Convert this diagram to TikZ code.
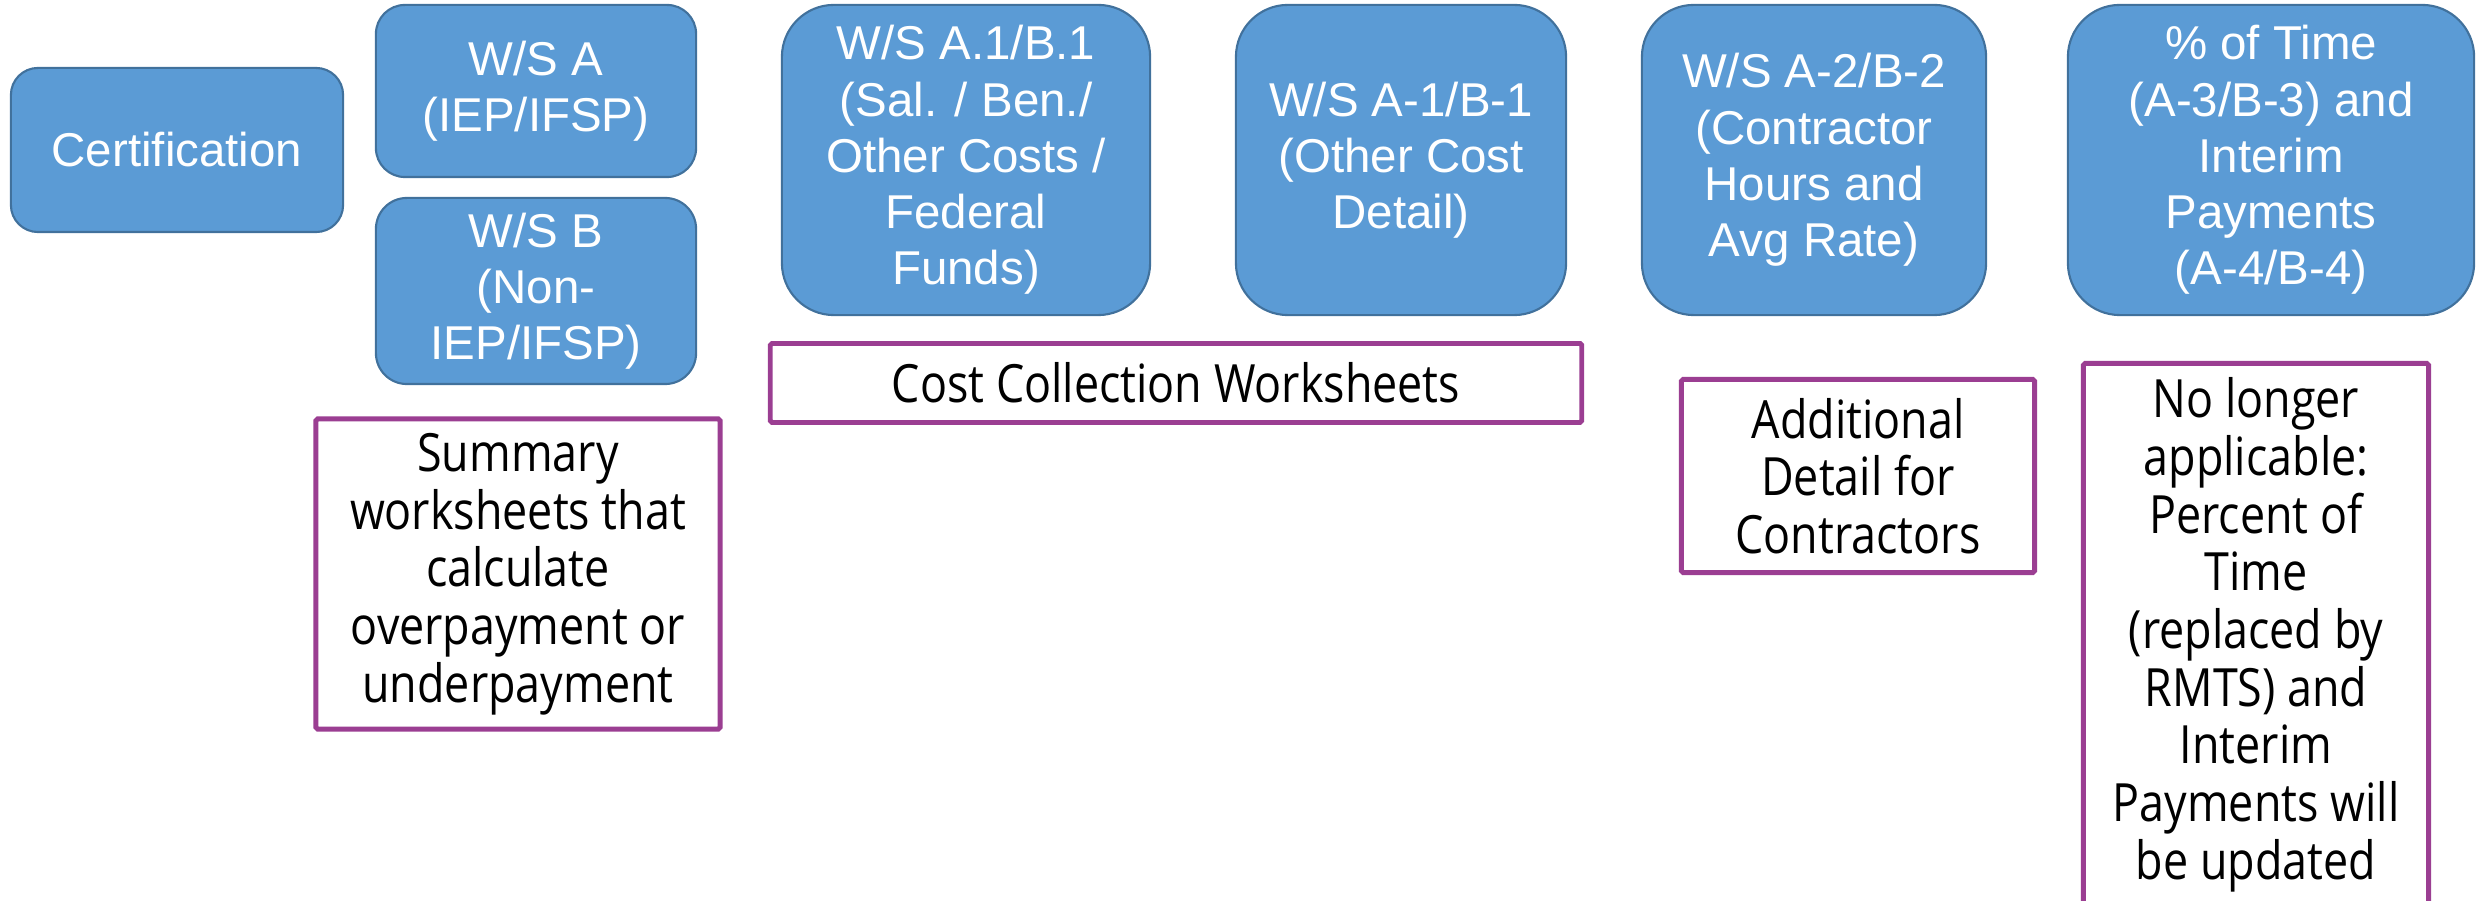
\documentclass[tikz,border=0pt]{standalone}
\usepackage{fontspec}
\setmainfont{Liberation Sans}
\newfontfamily\notefont[FakeStretch=0.85]{Open Sans}

\definecolor{tileblue}{HTML}{5B9BD5}
\definecolor{tileedge}{HTML}{41719C}
\definecolor{noteedge}{HTML}{9B3E92}

\tikzset{
  tile/.style={draw=tileedge, line width=0.6pt, fill=tileblue, text=white,
    align=center, inner sep=0pt,
    font=\fontsize{13.5}{16}\selectfont},
  note/.style={draw=noteedge, line width=1.4pt, fill=white, text=black,
    align=center, inner sep=0pt, rounded corners=0.5pt,
    font=\notefont\fontsize{15}{16.4}\selectfont},
  notetext/.style={text=black, align=center, inner sep=0pt,
    font=\notefont\fontsize{15}{16.4}\selectfont},
}

\begin{document}
\begin{tikzpicture}[x=0.01cm, y=-0.01cm]
  \useasboundingbox (0,0) rectangle (2476,901);
  \clip (0,0) rectangle (2476,901);

  % worksheet tiles
  \node[tile, minimum width=3.32cm, minimum height=1.64cm, rounded corners=0.27cm]
    (cert) at (177,150) {Certification};
  \node[tile, minimum width=3.20cm, minimum height=1.72cm, rounded corners=0.29cm]
    (wsa) at (536,91) {W/S A\\(IEP/IFSP)};
  \node[tile, minimum width=3.20cm, minimum height=1.86cm, rounded corners=0.31cm]
    (wsb) at (536,291) {W/S B\\(Non-\\IEP/IFSP)};
  \node[tile, minimum width=3.68cm, minimum height=3.10cm, rounded corners=0.52cm]
    (wsaone) at (966,160) {W/S A.1/B.1\\(Sal. / Ben./\\Other Costs /\\Federal\\Funds)};
  \node[tile, minimum width=3.30cm, minimum height=3.10cm, rounded corners=0.52cm]
    (wsaonedetail) at (1401,160) {W/S A-1/B-1\\(Other Cost\\Detail)};
  \node[tile, minimum width=3.44cm, minimum height=3.10cm, rounded corners=0.52cm]
    (wsatwo) at (1814,160) {W/S A-2/B-2\\(Contractor\\Hours and\\Avg Rate)};
  \node[tile, minimum width=4.06cm, minimum height=3.10cm, rounded corners=0.52cm]
    (pct) at (2271,160) {\% of Time\\(A-3/B-3) and\\Interim\\Payments\\(A-4/B-4)};

  % explanatory notes
  \node[note, minimum width=4.04cm, minimum height=3.10cm]
    (summary) at (518,574) {Summary\\worksheets that\\calculate\\overpayment or\\underpayment};
  \node[note, minimum width=8.11cm, minimum height=0.79cm]
    (cost) at (1176,383) {Cost Collection Worksheets};
  \node[note, minimum width=3.53cm, minimum height=1.93cm]
    (addl) at (1858,476) {Additional\\Detail for\\Contractors};
  \node[note, minimum width=3.45cm, minimum height=5.42cm, anchor=north]
    (gone) at (2256,361) {};
  \node[notetext, anchor=north] (gonetext) at ([yshift=-0.16cm]gone.north)
    {No longer\\applicable:\\Percent of\\Time\\(replaced by\\RMTS) and\\Interim\\Payments will\\be updated};
\end{tikzpicture}
\end{document}
